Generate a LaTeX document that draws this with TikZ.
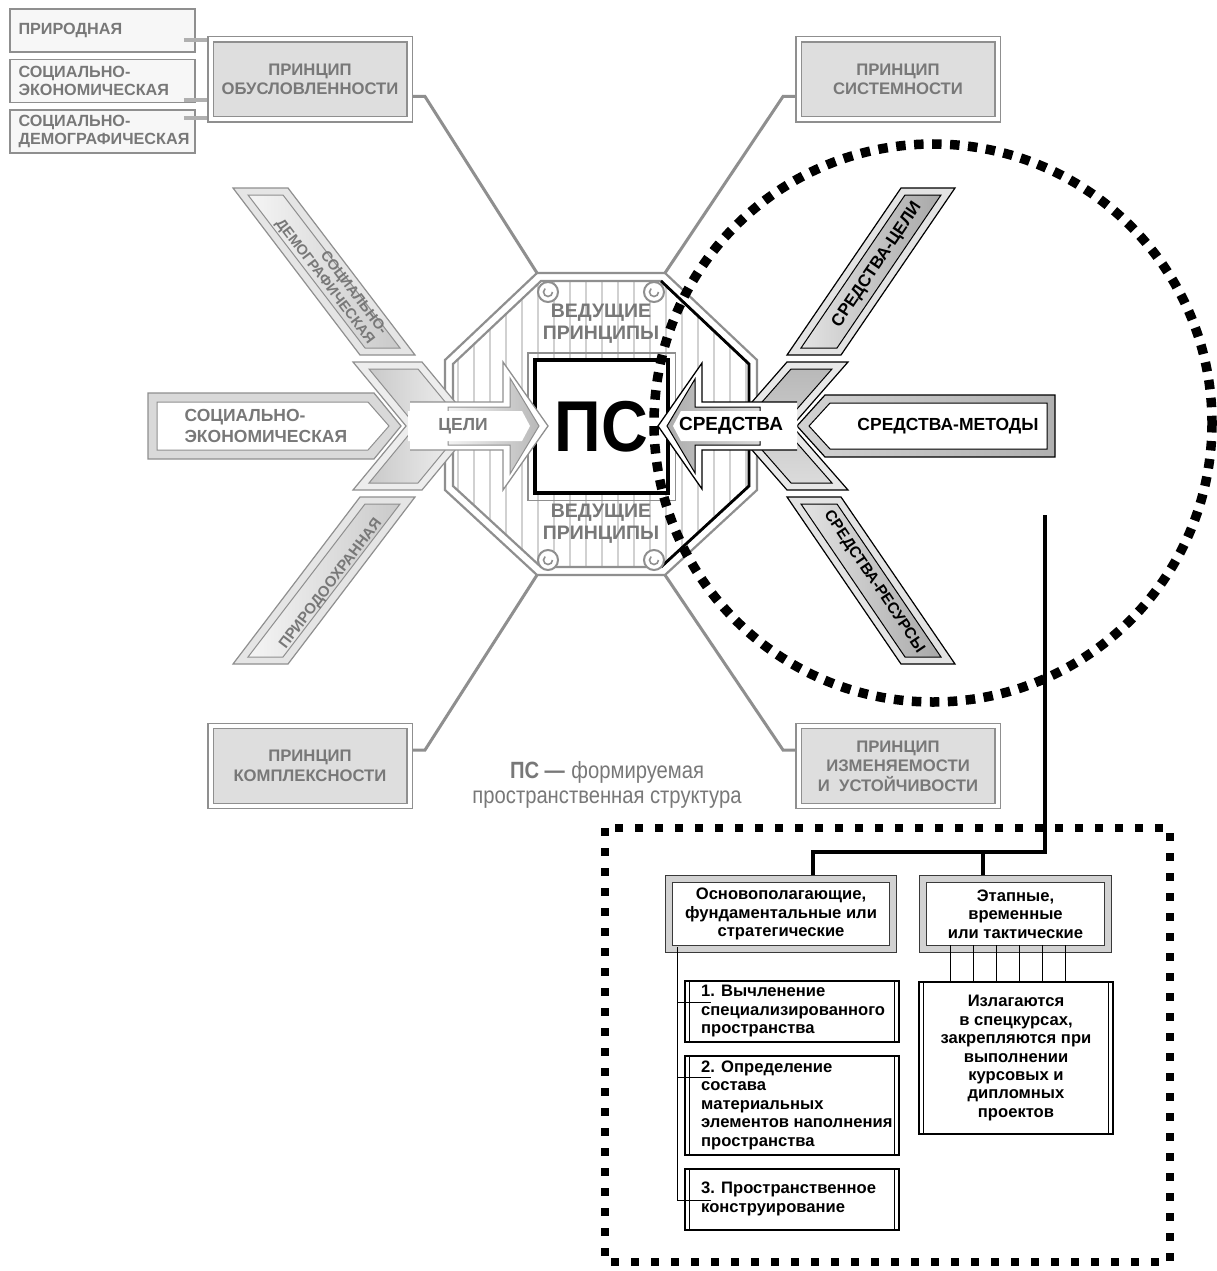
\documentclass[tikz,border=0pt]{standalone}
\usepackage{fontspec}
\setmainfont{Liberation Sans}
\newfontfamily\narrowfont[FakeStretch=0.86]{Liberation Sans}
\usetikzlibrary{calc}
\definecolor{tgray}{gray}{0.47}
\definecolor{bgray}{gray}{0.56}
\definecolor{pfill}{gray}{0.87}
\newcommand{\setfs}[2]{\fontsize{#1}{#2}\selectfont}
\begin{document}
\begin{tikzpicture}[x=1pt,y=-1pt,
  sbox/.style={draw=bgray, line width=1.5pt, fill=gray!6, minimum height=43pt,
    text width=168pt, inner xsep=8.5pt, inner ysep=3pt, align=left, text=tgray,
    font=\bfseries\setfs{16.2}{17.5}},
  pbox/.style={draw=bgray, line width=1.4pt, double=white, double distance=4pt,
    fill=pfill, minimum width=199pt, minimum height=80pt, outer sep=3.5pt,
    inner sep=2pt, align=center, text=tgray, font=\bfseries\setfs{16.7}{19.5}},
  pline/.style={draw=bgray, line width=3pt},
  stub/.style={draw=gray!62, line width=4pt},
  lband/.style={draw=bgray, line width=1.2pt, fill=gray!20},
  rband/.style={draw=black, line width=1.2pt, fill=gray!22},
  ltext/.style={text=tgray, font=\bfseries\setfs{15}{17}},
  rtext/.style={text=black, font=\bfseries\setfs{17}{19}},
  stripe/.style={draw=gray!36, line width=2pt},
  hdr/.style={draw=gray!45!black, line width=1.2pt, double=gray!35, double distance=5.5pt,
    fill=white, minimum width=224pt, minimum height=70pt, outer sep=4pt, inner sep=1pt,
    align=center, font=\bfseries\setfs{16.6}{18.5}},
  itembox/.style={draw=black, line width=1.3pt, minimum width=214pt},
  itemtxt/.style={anchor=west, align=left, inner sep=0pt, font=\bfseries\setfs{16.6}{18.5}},
  conn/.style={draw=black, line width=4pt},
  thinln/.style={draw=black, line width=0.9pt},
  rounddots/.style={draw=black, line width=9.5pt, dash pattern=on 9.5pt off 8.5pt},
  rectdots/.style={draw=black, line width=8pt, dash pattern=on 8pt off 12pt}]

\useasboundingbox (0,0) rectangle (1216,1271);
\fill[white] (0,0) rectangle (1216,1271);

% ---------- principle boxes ----------
\node[pbox] (obusl) at (310,79.5) {ПРИНЦИП\\ОБУСЛОВЛЕННОСТИ};
\node[pbox] (sist)  at (898,79.5) {ПРИНЦИП\\СИСТЕМНОСТИ};
\node[pbox] (kompl) at (310,766)  {ПРИНЦИП\\КОМПЛЕКСНОСТИ};
\node[pbox] (izm)   at (898,766)  {ПРИНЦИП\\ИЗМЕНЯЕМОСТИ\\И\ \ УСТОЙЧИВОСТИ};

% kinds of conditionality
\node[sbox] (prir) at (102.5,30.5) {ПРИРОДНАЯ};
\node[sbox] (soce) at (102.5,81)   {СОЦИАЛЬНО-\\ЭКОНОМИЧЕСКАЯ};
\node[sbox] (socd) at (102.5,131.5){СОЦИАЛЬНО-\\ДЕМОГРАФИЧЕСКАЯ};
\draw[stub] ([xshift=-12pt,yshift=-9.5pt]prir.east) -- ([yshift=-9.5pt]prir.east -| obusl.west);
\draw[stub] ([xshift=-12pt,yshift=-19pt]soce.east) -- ([yshift=-19pt]soce.east -| obusl.west);
\draw[stub] ([xshift=-12pt,yshift=13.5pt]socd.east) -- ([yshift=13.5pt]socd.east -| obusl.west);

% octagon corners
\coordinate (otl) at (537,273);
\coordinate (otr) at (665,273);
\coordinate (obl) at (537,575);
\coordinate (obr) at (665,575);

\draw[pline] ([yshift=-17pt]obusl.east) -- ++(12,0) -- (otl);
\draw[pline] ([yshift=-17pt]sist.west) -- ++(-12,0) -- (otr);
\draw[pline] ([yshift=16pt]kompl.east) -- ++(12,0) -- (obl);
\draw[pline] ([yshift=16pt]izm.west) -- ++(-12,0) -- (obr);

% ---------- octagon of leading principles ----------
\path[fill=white, draw=bgray, line width=2.2pt]
  (537,273) -- (665,273) -- (757,360) -- (757,490) -- (665,575) -- (537,575) -- (445,490) -- (445,360) -- cycle;
\begin{scope}
  \clip (541,281) -- (661,281) -- (749,364) -- (749,486) -- (661,567) -- (541,567) -- (453,486) -- (453,364) -- cycle;
  \foreach \x in {458,474,...,748} \draw[stripe] (\x,275) -- (\x,575);
\end{scope}
\draw[bgray, line width=2.2pt]
  (541,281) -- (661,281) -- (749,364) -- (749,486) -- (661,567) -- (541,567) -- (453,486) -- (453,364) -- cycle;
\draw[black, line width=2.8pt] (661,281) -- (749,364) -- (749,486) -- (661,567);
\foreach \p in {(548,292),(654,292),(548,560),(654,560)} {
  \draw[bgray, line width=2pt, fill=white] \p circle [radius=10];
  \draw[bgray, line width=1.6pt] \p ++(4.5,0) arc [start angle=0, end angle=230, radius=4.5];
}
\node[text=tgray, align=center, font=\bfseries\setfs{19.5}{22}] (vp1) at (601,324) {ВЕДУЩИЕ\\ПРИНЦИПЫ};
\node[text=tgray, align=center, font=\bfseries\setfs{19.5}{22}] (vp2) at (601,524) {ВЕДУЩИЕ\\ПРИНЦИПЫ};

% ---------- central square ----------
\node[draw=black, line width=4.5pt, fill=white, minimum size=133pt, inner sep=0pt] (ps) at (601.5,426.5)
  {\setfs{72}{72}\bfseries\scalebox{0.9}[1]{ПС}};
\draw[bgray, line width=1.5pt] ([shift={(-5,5)}]ps.south west) rectangle ([shift={(5,-5)}]ps.north east);

% ---------- goals (left) ----------
\path[lband] (233,188) -- (288,188) -- (415,355) -- (360,355) -- cycle;
\path[draw=bgray, line width=1pt, left color=gray!8, right color=gray!42]
  (248,195) -- (283,195) -- (400,348) -- (365,348) -- cycle;
\node[ltext, rotate=-52.7, align=right, font=\bfseries\setfs{14.5}{16}] (ldem) at (331,277) {СОЦИАЛЬНО-\\ДЕМОГРАФИЧЕСКАЯ};

\path[lband] (360,497) -- (415,497) -- (288,664) -- (233,664) -- cycle;
\path[draw=bgray, line width=1pt, left color=gray!8, right color=gray!42]
  (365,504) -- (400,504) -- (283,657) -- (248,657) -- cycle;
\node[ltext, rotate=52.7] (lpri) at (331,584) {ПРИРОДООХРАННАЯ};

\path[lband, fill=gray!30] (148,393) -- (374,393) -- (401,426) -- (374,459) -- (148,459) -- cycle;
\path[draw=bgray, line width=1pt, fill=white] (157,402) -- (368,402) -- (389,426) -- (368,450) -- (157,450) -- cycle;
\node[anchor=west, align=left, text=tgray, font=\bfseries\setfs{17.5}{21.5}] (lsoc) at (181,426) {СОЦИАЛЬНО-\\ЭКОНОМИЧЕСКАЯ};

\path[lband, fill=gray!14] (353,362) -- (422,362) -- (475,426) -- (422,490) -- (353,490) -- (406,426) -- cycle;
\path[draw=bgray, line width=1pt, left color=gray!42, right color=gray!10]
  (369,369) -- (418,369) -- (465,426) -- (418,483) -- (369,483) -- (416,426) -- cycle;

% ---------- means (right) ----------
\path[rband] (901,188) -- (955,188) -- (841,355) -- (787,355) -- cycle;
\path[draw=black, line width=1pt, left color=gray!22, right color=gray!68]
  (905,195) -- (941,195) -- (837,348) -- (801,348) -- cycle;
\node[rtext, rotate=56] (rcel) at (877,265) {СРЕДСТВА-ЦЕЛИ};

\path[rband] (787,497) -- (841,497) -- (955,664) -- (901,664) -- cycle;
\path[draw=black, line width=1pt, left color=gray!22, right color=gray!68]
  (801,504) -- (837,504) -- (941,657) -- (905,657) -- cycle;
\node[rtext, rotate=-56, font=\bfseries\setfs{15.5}{18}] (rres) at (874,582) {СРЕДСТВА-РЕСУРСЫ};

\path[draw=black, line width=1.2pt, left color=gray!35, right color=gray!62]
  (797,426) -- (825,395) -- (1055,395) -- (1055,457) -- (825,457) -- cycle;
\path[draw=black, line width=1pt, fill=white] (809,426) -- (830,403) -- (1047,403) -- (1047,449) -- (830,449) -- cycle;
\node[rtext, font=\bfseries\setfs{17.5}{20}] (rmet) at (948,426) {СРЕДСТВА-МЕТОДЫ};

\path[rband, fill=gray!18] (787,362) -- (848,362) -- (792,426) -- (848,490) -- (787,490) -- (731,426) -- cycle;
\path[draw=black, line width=1pt, top color=gray!55, bottom color=gray!28]
  (791,369) -- (832,369) -- (782,426) -- (832,483) -- (791,483) -- (741,426) -- cycle;

% ---------- arrows into the structure ----------
\fill[white] (410,402) -- (503,402) -- (503,362) -- (548,426) -- (503,490) -- (503,450) -- (410,450) -- cycle;
\draw[bgray, line width=1.3pt] (410,402) -- (503,402) -- (503,362) -- (548,426) -- (503,490) -- (503,450) -- (410,450);
\path[draw=bgray, line width=1pt, left color=gray!10, right color=gray!55]
  (448,407) -- (510,407) -- (510,378) -- (539,426) -- (510,474) -- (510,445) -- (448,445) -- cycle;
\fill[white] (408,411) -- (522,411) -- (530,426) -- (522,441) -- (408,441) -- cycle;
\node[text=tgray, font=\bfseries\setfs{17.5}{20}] (celi) at (463,426) {ЦЕЛИ};

\fill[white] (797,402) -- (702,402) -- (702,363) -- (658,426) -- (702,489) -- (702,450) -- (797,450) -- cycle;
\draw[black, line width=1.3pt] (797,402) -- (702,402) -- (702,363) -- (658,426) -- (702,489) -- (702,450) -- (797,450);
\path[draw=black, line width=1pt, left color=gray!65, right color=gray!30]
  (760,407) -- (695,407) -- (695,379) -- (667,426) -- (695,473) -- (695,445) -- (760,445) -- cycle;
\fill[white] (797,411) -- (681,411) -- (673,426) -- (681,441) -- (797,441) -- cycle;
\node[text=black, font=\bfseries\setfs{19}{21}] (sred) at (731,426) {СРЕДСТВА};

% ---------- caption ----------
\node[text=tgray, align=center, font=\setfs{23.5}{25}] (cap) at (607,785)
  {{\bfseries\narrowfont ПС —} \narrowfont формируемая\\\narrowfont пространственная структура};

% ---------- kinds of means ----------
\node[hdr] (hdrA) at (781,914) {Основополагающие,\\фундаментальные или\\стратегические};
\node[hdr, minimum width=185pt] (hdrB) at (1015.5,914) {Этапные,\\временные\\или тактические};

\node[itembox, minimum width=194pt, minimum height=152pt, align=center, inner sep=0pt,
  font=\bfseries\setfs{16.6}{18.4}] (izl) at (1016,1058)
  {Излагаются\\в спецкурсах,\\закрепляются при\\выполнении\\курсовых и\\дипломных\\проектов};

\node[itembox, minimum height=61pt] (it1) at (792,1011.5) {};
\node[itembox, minimum height=99pt] (it2) at (792,1105.5) {};
\node[itembox, minimum height=61pt] (it3) at (792,1199.5) {};
\node[itemtxt] (it1t) at (701,1011) {1. Вычленение\\специализированного\\пространства};
\node[itemtxt] (it2t) at (701,1105) {2. Определение\\состава\\материальных\\элементов наполнения\\пространства};
\node[itemtxt] (it3t) at (701,1199) {3. Пространственное\\конструирование};

\foreach \n in {it1,it2,it3,izl} {
  \draw[thinln] ([xshift=5.5pt]\n.north west) -- ([xshift=5.5pt]\n.south west);
  \draw[thinln] ([xshift=-5.5pt]\n.north east) -- ([xshift=-5.5pt]\n.south east);
}

% tree of fundamental stages
\coordinate (trk) at (677,947);
\coordinate (tk1) at (711,1002);
\coordinate (tk2) at (711,1077);
\coordinate (tk3) at (711,1200);
\draw[thinln] (trk) -- (trk |- tk3) -- (tk3);
\draw[thinln] (trk |- tk1) -- (tk1);
\draw[thinln] (trk |- tk2) -- (tk2);

% links from tactical header to its box
\foreach \x in {950,973,996,1019,1042,1065} {
  \path (\x,0) coordinate (vx);
  \draw[thinln] ([yshift=8pt]hdrB.south -| vx) -- (izl.north -| vx);
}

% link from the means to their kinds
\coordinate (tap) at (1045,515);
\coordinate (bus) at (1045,852);
\draw[conn] (tap) -- (bus) -| ([xshift=32pt]hdrA.north);
\draw[conn] ([xshift=-32.5pt]hdrB.north) |- (bus);

% ---------- dotted frames ----------
\draw[rectdots] (605,828) rectangle (1170,1262);
\draw[rounddots] (933,423) circle [radius=279];

\end{tikzpicture}
\end{document}
